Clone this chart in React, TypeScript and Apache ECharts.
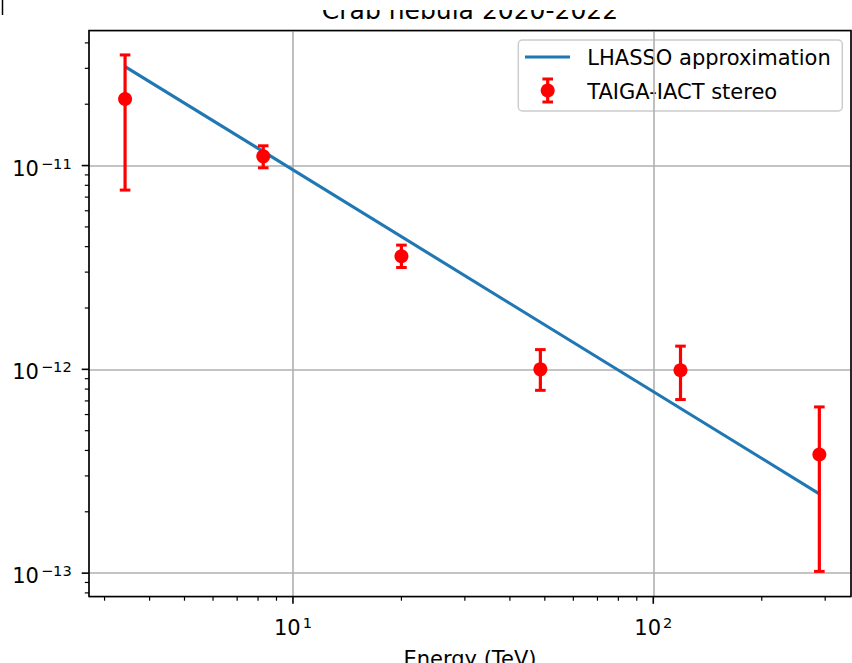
import React, { useEffect, useRef } from 'react';
import * as echarts from 'echarts';

// ---- data ----
const energies = [3.42, 8.27, 20.0, 48.6, 119, 289];
const flux = [2.12e-11, 1.11e-11, 3.59e-12, 1.0e-12, 9.9e-13, 3.82e-13];
const fluxLow = [7.58e-12, 9.75e-12, 3.16e-12, 7.89e-13, 7.11e-13, 1.02e-13];
const fluxHigh = [3.49e-11, 1.25e-11, 4.07e-12, 1.25e-12, 1.3e-12, 6.54e-13];

const lhaasoEnergy = [3.42, 289];
const lhaasoFlux = [3.06e-11, 2.45e-13];

const xMajorTicks = [10, 100];
const xMinorTicks = [3, 4, 5, 6, 7, 8, 9, 20, 30, 40, 50, 60, 70, 80, 90, 200, 300];
const yMajorTicks = [1e-13, 1e-12, 1e-11];
const yMinorTicks = [
  8e-14, 9e-14,
  2e-13, 3e-13, 4e-13, 5e-13, 6e-13, 7e-13, 8e-13, 9e-13,
  2e-12, 3e-12, 4e-12, 5e-12, 6e-12, 7e-12, 8e-12, 9e-12,
  2e-11, 3e-11, 4e-11,
];

const X_MIN = 2.716;
const X_MAX = 353.8;
const Y_MIN = 7.68e-14;
const Y_MAX = 4.6e-11;

const TITLE = 'Crab nebula 2020-2022';
const X_NAME = 'Energy (TeV)';
const LEGEND_LINE = 'LHASSO approximation';
const LEGEND_ERR = 'TAIGA-IACT stereo';

const FONT = 'DejaVu Sans';
const BLUE = '#1f77b4';
const RED = '#ff0000';

const GRID = { left: 89, top: 30.5, width: 762, height: 566 };

const fmtPow = (v: number) => {
  const e = Math.log10(v);
  const r = Math.round(e);
  if (Math.abs(e - r) > 1e-6) return '';
  const s = r < 0 ? '\u2212' + -r : String(r);
  return `{b|10}{s|${s}}`;
};

const richLabel = {
  b: { fontSize: 21, lineHeight: 26, fontFamily: FONT, color: '#000' },
  s: { fontSize: 14.6, lineHeight: 13, verticalAlign: 'top', fontFamily: FONT, color: '#000', padding: [0, 0, 0, 2] },
};

export default function App() {
  const ref = useRef<HTMLDivElement>(null);

  useEffect(() => {
    document.body.style.margin = '0';
    if (!ref.current) return;
    const chart = echarts.init(ref.current, null, { renderer: 'svg' });

    const xTickData = [
      ...xMajorTicks.map((v) => [v, Y_MIN, 1]),
      ...xMinorTicks.map((v) => [v, Y_MIN, 0]),
    ];
    const yTickData = [
      ...yMajorTicks.map((v) => [X_MIN, v, 1]),
      ...yMinorTicks.map((v) => [X_MIN, v, 0]),
    ];
    const errData = energies.map((e, i) => [e, flux[i], fluxLow[i], fluxHigh[i]]);
    const lineData = lhaasoEnergy.map((e, i) => [e, lhaasoFlux[i]]);

    const option: any = {
      animation: false,
      backgroundColor: '#ffffff',
      grid: {
        left: GRID.left,
        top: GRID.top,
        width: GRID.width,
        height: GRID.height,
        containLabel: false,
        outerBoundsMode: 'none',
      },
      xAxis: {
        type: 'log',
        logBase: 10,
        min: X_MIN,
        max: X_MAX,
        name: X_NAME,
        nameLocation: 'middle',
        nameGap: 52,
        nameTextStyle: { fontSize: 21, fontFamily: FONT, color: '#000' },
        axisLine: { show: false },
        axisTick: { show: false },
        axisLabel: { margin: 18, formatter: fmtPow, rich: richLabel },
        splitLine: { show: true, lineStyle: { color: '#b0b0b0', width: 1.6 } },
        minorTick: { show: false },
      },
      yAxis: {
        type: 'log',
        logBase: 10,
        min: Y_MIN,
        max: Y_MAX,
        axisLine: { show: false },
        axisTick: { show: false },
        axisLabel: { margin: 17.3, formatter: fmtPow, rich: richLabel, padding: [6, 0, 0, 0] },
        splitLine: { show: true, lineStyle: { color: '#b0b0b0', width: 1.6 } },
      },
      series: [
        {
          name: LEGEND_LINE,
          type: 'line',
          data: lineData,
          symbol: 'none',
          lineStyle: { color: BLUE, width: 3.1 },
          z: 3,
        },
        {
          name: LEGEND_ERR,
          type: 'custom',
          data: errData,
          z: 4,
          renderItem: (params: any, api: any) => {
            const x = api.value(0);
            const c = api.coord([x, api.value(1)]);
            const lo = api.coord([x, api.value(2)]);
            const hi = api.coord([x, api.value(3)]);
            const cap = 5.3;
            return {
              type: 'group',
              children: [
                { type: 'line', shape: { x1: c[0], y1: hi[1], x2: c[0], y2: lo[1] }, style: { stroke: RED, lineWidth: 3.2 } },
                { type: 'line', shape: { x1: c[0] - cap, y1: hi[1], x2: c[0] + cap, y2: hi[1] }, style: { stroke: RED, lineWidth: 3 } },
                { type: 'line', shape: { x1: c[0] - cap, y1: lo[1], x2: c[0] + cap, y2: lo[1] }, style: { stroke: RED, lineWidth: 3 } },
                { type: 'circle', shape: { cx: c[0], cy: c[1], r: 7 }, style: { fill: RED } },
              ],
            };
          },
        },
        {
          type: 'custom',
          data: xTickData,
          z: 5,
          silent: true,
          renderItem: (params: any, api: any) => {
            const p = api.coord([api.value(0), api.value(1)]);
            const major = api.value(2) === 1;
            const len = major ? 7.3 : 4.2;
            return {
              type: 'line',
              shape: { x1: p[0], y1: p[1], x2: p[0], y2: p[1] + len },
              style: { stroke: '#000', lineWidth: major ? 1.6 : 1.2 },
            };
          },
        },
        {
          type: 'custom',
          data: yTickData,
          z: 5,
          silent: true,
          renderItem: (params: any, api: any) => {
            const p = api.coord([api.value(0), api.value(1)]);
            const major = api.value(2) === 1;
            const len = major ? 7.3 : 4.2;
            return {
              type: 'line',
              shape: { x1: p[0] - len, y1: p[1], x2: p[0], y2: p[1] },
              style: { stroke: '#000', lineWidth: major ? 1.6 : 1.2 },
            };
          },
        },
      ],
      graphic: [
        // axes frame
        {
          type: 'rect',
          z: 20,
          silent: true,
          shape: { x: GRID.left, y: GRID.top, width: GRID.width, height: GRID.height },
          style: { fill: 'none', stroke: '#000', lineWidth: 1.6 },
        },
        // title
        {
          type: 'text',
          z: 20,
          x: GRID.left + GRID.width / 2,
          y: 10.4,
          style: {
            text: TITLE,
            fontSize: 25,
            lineHeight: 20,
            fontFamily: FONT,
            fill: '#000',
            textAlign: 'center',
            textVerticalAlign: 'middle',
          },
        },
        // white band hiding the top of the title, as in the reference
        {
          type: 'rect',
          z: 21,
          silent: true,
          shape: { x: 8, y: 0, width: 844, height: 10 },
          style: { fill: '#ffffff' },
        },
        {
          type: 'line',
          z: 22,
          silent: true,
          shape: { x1: 2.5, y1: 0, x2: 2.5, y2: 15 },
          style: { stroke: '#000', lineWidth: 1.5 },
        },
        // legend
        {
          type: 'group',
          z: 30,
          children: [
            {
              type: 'rect',
              shape: { x: 518.3, y: 40, width: 324, height: 71, r: 4 },
              style: { fill: 'rgba(255,255,255,0.8)', stroke: '#cccccc', lineWidth: 1.5 },
            },
            {
              type: 'line',
              shape: { x1: 525, y1: 57, x2: 570, y2: 57 },
              style: { stroke: BLUE, lineWidth: 3.1 },
            },
            {
              type: 'text',
              x: 587.3,
              y: 58,
              style: { text: LEGEND_LINE, fontSize: 21, fontFamily: FONT, fill: '#000', textAlign: 'left', textVerticalAlign: 'middle' },
            },
            {
              type: 'line',
              shape: { x1: 547.7, y1: 79, x2: 547.7, y2: 102 },
              style: { stroke: RED, lineWidth: 3.2 },
            },
            {
              type: 'line',
              shape: { x1: 542.4, y1: 79, x2: 553, y2: 79 },
              style: { stroke: RED, lineWidth: 3 },
            },
            {
              type: 'line',
              shape: { x1: 542.4, y1: 102, x2: 553, y2: 102 },
              style: { stroke: RED, lineWidth: 3 },
            },
            {
              type: 'circle',
              shape: { cx: 547.7, cy: 90.5, r: 7 },
              style: { fill: RED },
            },
            {
              type: 'text',
              x: 587.3,
              y: 91.5,
              style: { text: LEGEND_ERR, fontSize: 21, fontFamily: FONT, fill: '#000', textAlign: 'left', textVerticalAlign: 'middle' },
            },
          ],
        },
      ],
    };

    chart.setOption(option);
    return () => chart.dispose();
  }, []);

  return <div ref={ref} style={{ width: 852, height: 663 }} />;
}
